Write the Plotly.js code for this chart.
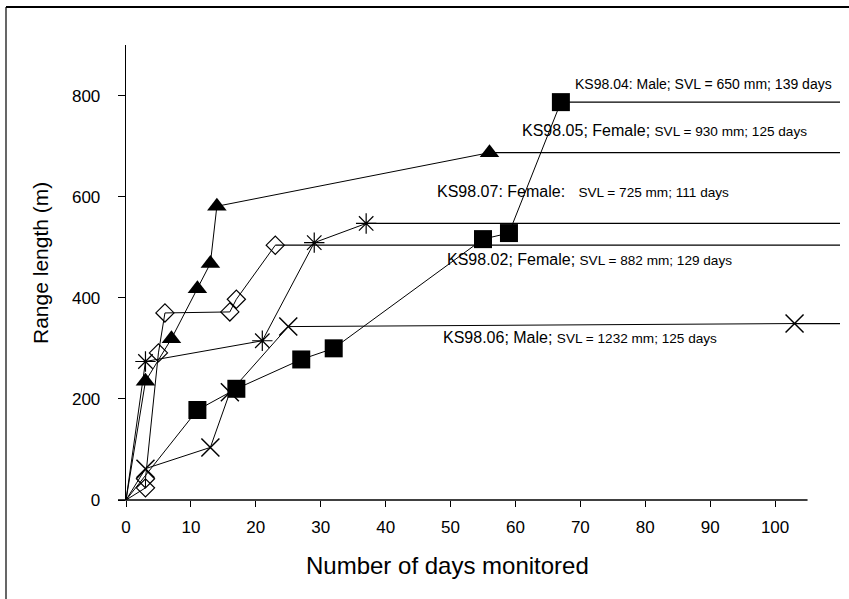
<!DOCTYPE html>
<html><head><meta charset="utf-8">
<script src="https://cdn.plot.ly/plotly-3.0.1.min.js"></script>
<style>html,body{margin:0;padding:0;background:#fff}#chart{width:849px;height:599px}</style>
</head><body><div id="chart"></div>
<script>
// ---- data ----
const xTicks = [0, 10, 20, 30, 40, 50, 60, 70, 80, 90, 100];
const yTicks = [0, 200, 400, 600, 800];
const lineEndDay = 110;   // horizontal end lines run to the right edge

// KS98.04 (filled squares)
const ks9804Days  = [0, 11, 17, 27, 32, 55, 59, 67];
const ks9804Range = [0, 178, 220, 278, 300, 516, 528, 787];
// KS98.05 (filled triangles)
const ks9805Days  = [0, 3, 7, 11, 13, 14, 56];
const ks9805Range = [0, 235, 319, 418, 468, 581, 687];
// KS98.07 (asterisks)
const ks9807Days  = [0, 3, 21, 29, 37];
const ks9807Range = [0, 274, 315, 509, 547];
// KS98.02 (open diamonds)
const ks9802Days  = [0, 3, 3, 5, 6, 16, 17, 23];
const ks9802Range = [0, 24, 42, 291, 370, 372, 397, 504];
// KS98.06 (crosses)
const ks9806Days  = [0, 3, 13, 16, 25, 103];
const ks9806Range = [0, 62, 104, 213, 343, 349];

const labelTexts = [
  'KS98.04: Male; SVL = 650 mm; 139 days',
  'KS98.05; Female;',
  'SVL = 930 mm; 125 days',
  'KS98.07: Female:',
  'SVL = 725 mm; 111 days',
  'KS98.02; Female;',
  'SVL = 882 mm; 129 days',
  'KS98.06; Male;',
  'SVL = 1232 mm; 125 days'
];
const xTitle = 'Number of days monitored';
const yTitle = 'Range length (m)';

// ---- build ----
const series = [
  {d: ks9804Days, r: ks9804Range, symbol: 'square', size: 18, lw: 0},
  {d: ks9805Days, r: ks9805Range, symbol: 'triangle-up', size: 17, lw: 0},
  {d: ks9807Days, r: ks9807Range, symbol: 'asterisk-open', size: 17, lw: 1.2},
  {d: ks9802Days, r: ks9802Range, symbol: 'diamond-open', size: 14, lw: 1.2},
  {d: ks9806Days, r: ks9806Range, symbol: 'x-thin-open', size: 18, lw: 1.5}
];

const traces = [];
series.forEach(s => {
  const last = s.d.length - 1;
  traces.push({
    x: s.d, y: s.r, type: 'scatter', mode: 'lines',
    line: {color: '#000', width: 1}, hoverinfo: 'skip'
  });
  traces.push({
    x: [s.d[last], lineEndDay], y: [s.r[last], s.r[last]], type: 'scatter', mode: 'lines',
    line: {color: '#000', width: 1.3}, hoverinfo: 'skip'
  });
});
series.forEach(s => {
  traces.push({
    x: s.d.slice(1), y: s.r.slice(1), type: 'scatter', mode: 'markers',
    marker: {symbol: s.symbol, size: s.size, color: '#000', line: {color: '#000', width: s.lw}},
    hoverinfo: 'skip'
  });
});

const big = 16, small = 13.6;
const gap = '\u00A0';
function lab(x, y, a, b, extraGap) {
  const sep = extraGap ? gap + gap + gap : gap;
  const t = b ? a + sep + '<span style="font-size:' + small + 'px">' + b + '</span>' : a;
  return {x: x, y: y, xref: 'x', yref: 'y', text: t, showarrow: false,
          xanchor: 'left', yanchor: 'middle', font: {size: b ? big : 14, color: '#000'}};
}

const L = 126, R = 840, T = 45, B = 500;
const px = v => (v - L) / (R - L);
const py = v => (B - v) / (B - T);

const layout = {
  width: 849, height: 599,
  margin: {l: L, r: 849 - R, t: T, b: 599 - B},
  paper_bgcolor: '#fff', plot_bgcolor: '#fff',
  showlegend: false,
  font: {family: '"Liberation Sans", Arial, sans-serif', color: '#000'},
  xaxis: {
    range: [0, 110], tickvals: xTicks, ticktext: xTicks.map(String),
    ticks: 'outside', ticklen: 6, tickwidth: 1, tickcolor: '#000',
    showline: false, zeroline: false, showgrid: false,
    tickfont: {size: 17}, ticklabelstandoff: 6
  },
  yaxis: {
    range: [0, 900], tickvals: yTicks, ticktext: yTicks.map(String),
    ticks: 'outside', ticklen: 7, tickwidth: 1, tickcolor: '#000',
    showline: true, linecolor: '#000', linewidth: 1.3,
    zeroline: false, showgrid: false,
    tickfont: {size: 17}, ticklabelstandoff: 14
  },
  shapes: [
    {type: 'line', xref: 'paper', yref: 'paper', x0: px(118), x1: 105 / 110, y0: 0, y1: 0,
     line: {color: '#000', width: 1.3}},
    {type: 'line', xref: 'paper', yref: 'paper', x0: px(6), x1: px(852), y0: py(7), y1: py(7),
     line: {color: '#000', width: 2}},
    {type: 'line', xref: 'paper', yref: 'paper', x0: px(6), x1: px(6), y0: py(7), y1: py(602),
     line: {color: '#000', width: 1.2}}
  ],
  annotations: [
    lab(68.9, 823, labelTexts[0]),
    lab(60.7, 730, labelTexts[1], labelTexts[2]),
    lab(47.6, 611, labelTexts[3], labelTexts[4], true),
    lab(49.1, 476, labelTexts[5], labelTexts[6]),
    lab(48.5, 321, labelTexts[7], labelTexts[8]),
    {xref: 'paper', yref: 'paper', x: px(447.5), y: py(565), text: xTitle, showarrow: false,
     xanchor: 'center', yanchor: 'middle', font: {size: 24, color: '#000'}},
    {xref: 'paper', yref: 'paper', x: px(40), y: py(263), text: yTitle, showarrow: false,
     textangle: -90, xanchor: 'center', yanchor: 'middle', font: {size: 21, color: '#000'}}
  ]
};

Plotly.newPlot('chart', traces, layout, {staticPlot: true, displayModeBar: false});
</script>
</body></html>
